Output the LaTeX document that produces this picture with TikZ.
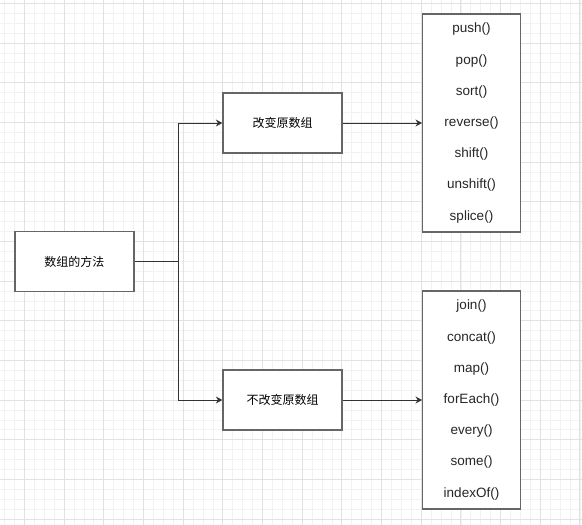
\documentclass[tikz,border=0pt]{standalone}
\usepackage{fontspec}
\setmainfont{Liberation Sans}
\newfontfamily\cjk{Noto Sans CJK SC}
\usepackage{tikz}
\usetikzlibrary{arrows.meta,positioning,calc}
\usepackage{xcolor}
\definecolor{gridminor}{HTML}{F2F2F2}
\definecolor{gridmajor}{HTML}{E2E2E2}
\definecolor{edge}{HTML}{333333}
\definecolor{border}{HTML}{666666}

\tikzset{
    box/.style={draw=border, line width=1.3pt, fill=white, inner sep=0pt, minimum width=119pt, minimum height=60pt, font=\cjk\fontsize{12}{14}\selectfont},
    listbox/.style={draw=border, line width=1.3pt, fill=white, inner sep=0pt, minimum width=97.6pt, minimum height=218pt},
    item/.style={inner sep=0pt, font=\fontsize{13.5}{16}\selectfont, text=black!85},
    arr/.style={draw=edge, line width=1pt, -{Stealth[length=6.5pt,width=7pt]}},
    link/.style={draw=edge, line width=1pt}
}

\begin{document}
\begin{tikzpicture}[x=1pt, y=-1pt]
    \useasboundingbox (0,0) rectangle (582,525);

    % Background grid
    \fill[white] (0,0) rectangle (582,525);
    \foreach \i in {0,...,58} \draw[gridminor, line width=0.8pt] ({4.6+9.92*\i},0) -- ({4.6+9.92*\i},525);
    \foreach \j in {0,...,52} \draw[gridminor, line width=0.8pt] (0,{3.3+9.92*\j}) -- (582,{3.3+9.92*\j});
    \foreach \i in {0,...,14} \draw[gridmajor, line width=0.9pt] ({24.4+39.68*\i},0) -- ({24.4+39.68*\i},525);
    \foreach \j in {0,...,13} \draw[gridmajor, line width=0.9pt] (0,{3.3+39.68*\j}) -- (582,{3.3+39.68*\j});

    % Main boxes
    \node[box] (root) at (74.5,261.5) {数组的方法};
    \node[box] (change) at (282.5,123) {改变原数组};
    \node[box] (keep) at (282.5,400) {不改变原数组};

    % Method lists
    \node[listbox] (mutlist) at (471.5,123) {};
    \foreach \m [count=\k from 0] in {push(),pop(),sort(),reverse(),shift(),unshift(),splice()}
        \node[item] (mut\k) at ($(mutlist.center)+(0,{(\k-3)*31.2})$) {\m};

    \node[listbox] (purelist) at (471.5,400) {};
    \foreach \m [count=\k from 0] in {join(),concat(),map(),forEach(),every(),some(),indexOf()}
        \node[item] (pure\k) at ($(purelist.center)+(0,{(\k-3)*31.2})$) {\m};

    % Connectors
    \coordinate (split) at (178.3,261.5);
    \draw[link] (root.east) -- (split);
    \draw[arr] (split) |- (change.west);
    \draw[arr] (split) |- (keep.west);
    \draw[arr] (change.east) -- (mutlist.west);
    \draw[arr] (keep.east) -- (purelist.west);
\end{tikzpicture}
\end{document}
